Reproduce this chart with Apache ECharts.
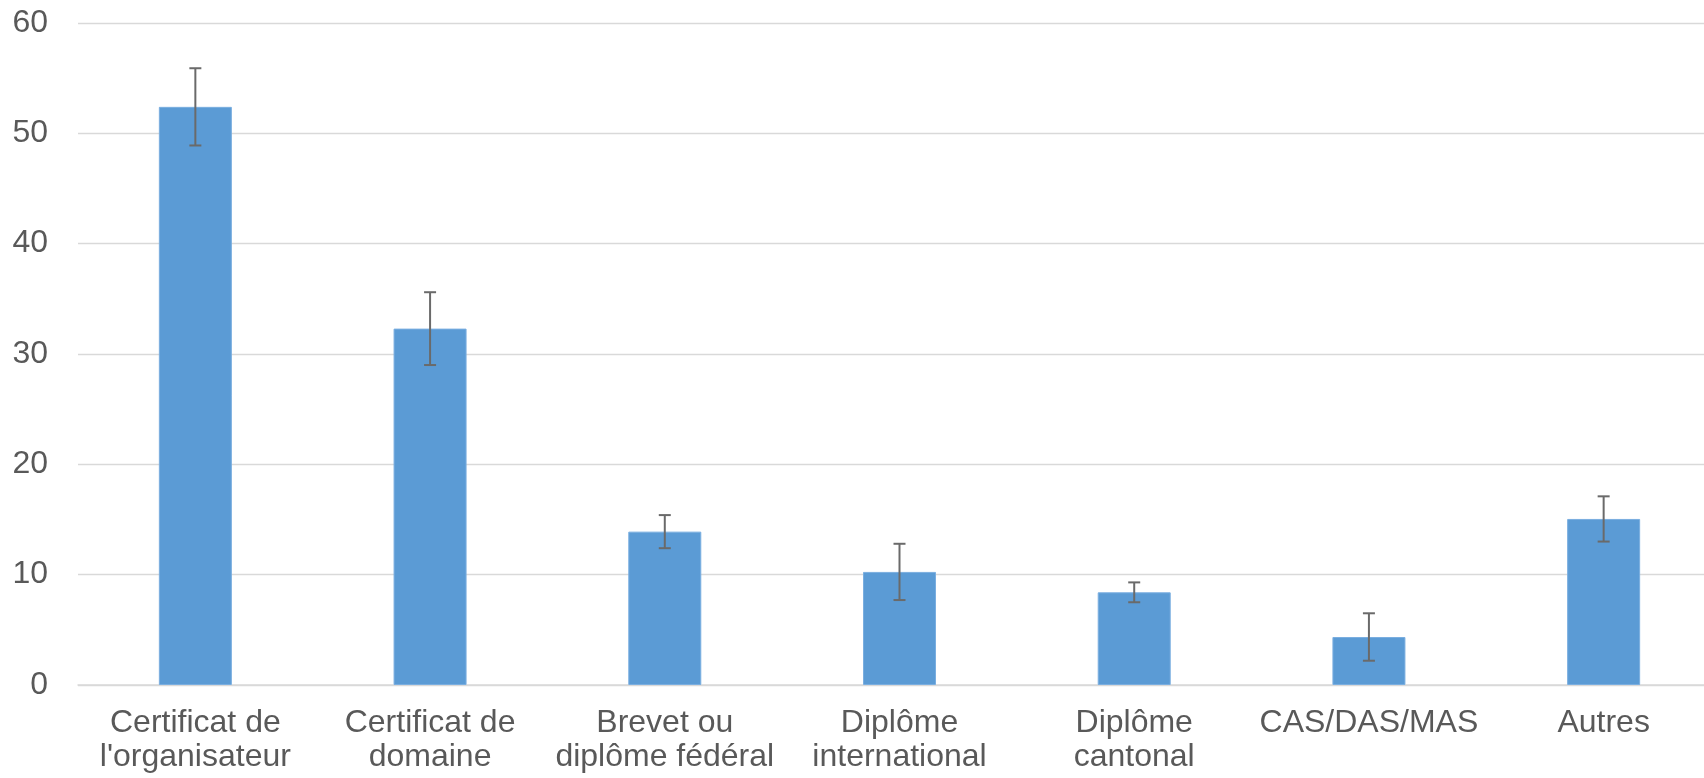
<!DOCTYPE html>
<html>
<head>
<meta charset="utf-8">
<script src="https://cdn.jsdelivr.net/npm/echarts@6/dist/echarts.min.js"></script>
<style>
html,body{margin:0;padding:0;background:#fff;}
#chart{width:1704px;height:778px;}
</style>
</head>
<body>
<div id="chart"></div>
<script>
var categories = ["Certificat de\nl'organisateur", "Certificat de\ndomaine", "Brevet ou\ndiplôme fédéral", "Diplôme\ninternational", "Diplôme\ncantonal", "CAS/DAS/MAS", "Autres"];
var values = [52.4, 32.3, 13.9, 10.25, 8.4, 4.35, 15.05];
var errors = [3.5, 3.3, 1.5, 2.55, 0.9, 2.15, 2.05];
var yTicks = [0, 10, 20, 30, 40, 50, 60];

var chart = echarts.init(document.getElementById('chart'));
var errData = values.map(function (v, i) { return [i, v - errors[i], v + errors[i]]; });

chart.setOption({
  animation: false,
  backgroundColor: '#ffffff',
  grid: { left: 78, width: 1643, top: 23, bottom: 93, containLabel: false, outerBoundsMode: 'none' },
  xAxis: {
    type: 'category',
    data: categories,
    axisLine: { show: true, lineStyle: { color: '#d9d9d9', width: 1.5 } },
    axisTick: { show: false },
    axisLabel: {
      color: '#595959', fontFamily: 'Liberation Sans, Arial, sans-serif',
      fontSize: 32, lineHeight: 34, margin: 21, interval: 0
    }
  },
  yAxis: {
    type: 'value',
    min: yTicks[0], max: yTicks[yTicks.length - 1], interval: 10,
    axisLine: { show: false },
    axisTick: { show: false },
    splitLine: { lineStyle: { color: '#d9d9d9', width: 1.3 } },
    axisLabel: {
      color: '#595959', fontFamily: 'Liberation Sans, Arial, sans-serif',
      fontSize: 32, margin: 30
    }
  },
  series: [
    {
      type: 'bar',
      data: values,
      barWidth: 73,
      itemStyle: { color: '#5b9bd5', borderColor: '#7aaee0', borderWidth: 1 }
    },
    {
      type: 'custom',
      data: errData,
      z: 10,
      renderItem: function (params, api) {
        var x = api.value(0);
        var lo = api.coord([x, api.value(1)]);
        var hi = api.coord([x, api.value(2)]);
        var hw = 6;
        var style = { stroke: '#6a6a6a', lineWidth: 2, fill: null };
        return {
          type: 'group',
          children: [
            { type: 'line', shape: { x1: lo[0], y1: lo[1], x2: hi[0], y2: hi[1] }, style: style },
            { type: 'line', shape: { x1: lo[0] - hw, y1: lo[1], x2: lo[0] + hw, y2: lo[1] }, style: style },
            { type: 'line', shape: { x1: hi[0] - hw, y1: hi[1], x2: hi[0] + hw, y2: hi[1] }, style: style }
          ]
        };
      }
    }
  ]
});
</script>
</body>
</html>
